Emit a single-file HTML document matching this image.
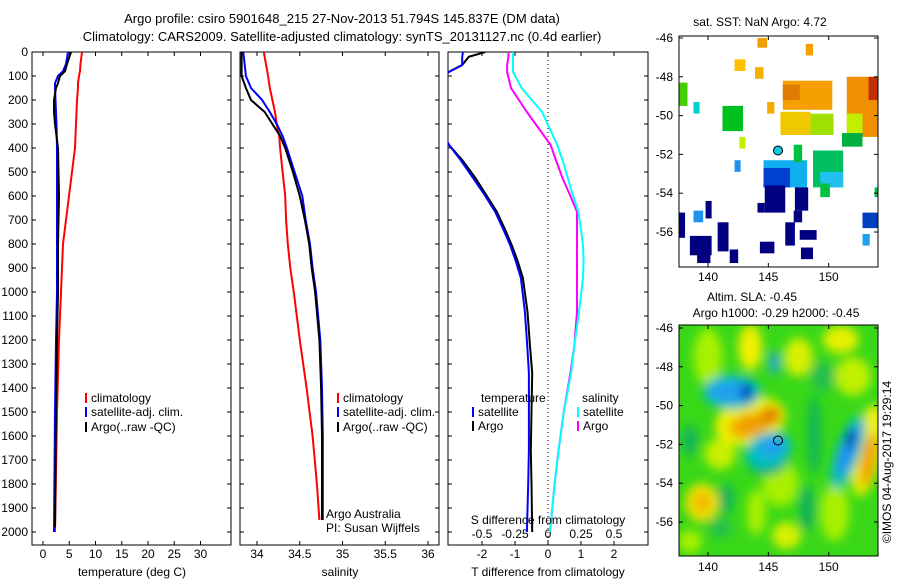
<!DOCTYPE html>
<html><head><meta charset="utf-8"><style>
html,body{margin:0;padding:0;background:#fff;}
svg{display:block;font-family:"Liberation Sans",sans-serif;}
text{font-size:12px;fill:#000;}
</style></head><body>
<svg id="chart" width="900" height="580" viewBox="0 0 900 580" xmlns="http://www.w3.org/2000/svg">
<defs>
<clipPath id="c1"><rect x="32" y="52" width="199" height="493"/></clipPath>
<clipPath id="c2"><rect x="240" y="52" width="199" height="493"/></clipPath>
<clipPath id="c3"><rect x="448" y="52" width="200" height="493"/></clipPath>
<clipPath id="cm1"><rect x="679" y="36" width="199" height="231"/></clipPath>
<clipPath id="cm2"><rect x="679" y="325" width="199" height="231"/></clipPath>
<filter id="blur" x="-50%" y="-50%" width="200%" height="200%"><feGaussianBlur stdDeviation="5"/></filter>
</defs>
<text x="342" y="23" text-anchor="middle" style="font-size:13px">Argo profile: csiro 5901648_215 27-Nov-2013 51.794S 145.837E (DM data)</text>
<text x="342" y="41" text-anchor="middle" style="font-size:13px">Climatology: CARS2009. Satellite-adjusted climatology: synTS_20131127.nc (0.4d earlier)</text>
<g id="g"></g>
</svg>
<script>
// ---- data ----
const depthT = [0,50,80,100,130,150,200,250,300,400,500,600,700,800,900,1000,1200,1500,2000];
const tempClim = [7.43,7.14,7.05,6.86,6.67,6.67,6.48,6.38,6.29,6.1,5.52,4.95,4.38,3.81,3.62,3.43,3.05,2.67,2.29];
const tempSat = [4.76,4.38,3.81,2.86,2.29,2.29,2.38,2.48,2.57,2.67,2.67,2.67,2.67,2.67,2.67,2.67,2.48,2.29,2.1];
const depthTArgo = [0,50,80,100,130,150,200,250,300,400,500,600,700,800,900,1000,1200,1500,1980];
const tempArgo = [5.33,4.57,4.19,3.24,2.86,2.48,2.1,2.1,2.29,2.86,2.95,3.05,2.95,2.86,2.86,2.86,2.67,2.48,2.29];
const depthS = [0,100,150,200,250,300,350,400,500,600,700,800,900,1000,1200,1400,1600,1800,1950];
const salClim = [34.08,34.13,34.15,34.18,34.21,34.23,34.26,34.27,34.30,34.33,34.34,34.36,34.39,34.43,34.50,34.58,34.65,34.70,34.73];
const salSat = [33.84,33.87,33.93,34.06,34.15,34.23,34.30,34.35,34.44,34.53,34.57,34.62,34.65,34.69,34.74,34.76,34.77,34.77,34.77];
const salArgo = [33.82,33.82,33.87,33.93,34.09,34.18,34.27,34.33,34.42,34.50,34.56,34.61,34.64,34.68,34.73,34.75,34.76,34.76,34.76];
const depthD = [0,20,54,83,150,250,387,450,525,600,666,740,804,870,942,1083,1221,1337,1500,1658,1800,2000];
const tDiffSat = [-2.58,-2.6,-2.6,-3.0,-3.6,-3.5,-3.0,-2.65,-2.27,-1.9,-1.6,-1.35,-1.15,-0.98,-0.82,-0.7,-0.63,-0.58,-0.58,-0.58,-0.6,-0.64];
const tDiffArgo = [-1.9,-2.4,-2.6,-3.0,-3.6,-3.5,-3.0,-2.6,-2.2,-1.85,-1.55,-1.3,-1.1,-0.92,-0.76,-0.62,-0.55,-0.48,-0.5,-0.52,-0.5,-0.48];
const sDiffSat = [-0.265,-0.265,-0.265,-0.265,-0.2,-0.045,0.07,0.11,0.15,0.19,0.23,0.25,0.265,0.27,0.265,0.235,0.2,0.175,0.12,0.08,0.05,0.015];
const sDiffArgo = [-0.3,-0.3,-0.31,-0.31,-0.28,-0.16,0.02,0.06,0.11,0.17,0.22,0.22,0.22,0.22,0.22,0.22,0.2,0.17,0.12,0.08,0.05,0.015];
const depthTicks = [0,100,200,300,400,500,600,700,800,900,1000,1100,1200,1300,1400,1500,1600,1700,1800,1900,2000];
const tempTicks = [0,5,10,15,20,25,30];
const salTicks = [34,34.5,35,35.5,36];
const salTickLabels = ["34","34.5","35","35.5","36"];
const tdTicks = [-2,-1,0,1,2];
const sdTicks = [-0.5,-0.25,0,0.25,0.5];
const sdTickLabels = ["-0.5","-0.25","0","0.25","0.5"];
const latTicks = [-46,-48,-50,-52,-54,-56];
const lonTicks = [140,145,150];
const argoLon = 145.8, argoLat = -51.8;
// SST blocks: [lon0, latTop, lon1, latBottom, colour]
const sstBlocks = [
[146.2,-48.2,150.3,-49.7,'#f5a000'],[146.2,-48.4,147.6,-49.2,'#e07a00'],
[146.0,-49.8,148.5,-51.0,'#f0c800'],[148.5,-49.9,150.4,-51.0,'#a0e000'],
[151.5,-48.0,154.1,-51.1,'#f09000'],[153.3,-48.0,154.1,-49.2,'#c03000'],
[151.5,-49.9,152.8,-51.1,'#c0f000'],[151.1,-50.9,152.8,-51.6,'#00b040'],
[141.2,-49.5,142.9,-50.8,'#00c020'],[142.6,-51.1,143.1,-51.7,'#c0f000'],
[138.8,-49.3,139.3,-49.9,'#00d0d0'],[137.6,-48.3,138.3,-49.5,'#40d000'],
[142.2,-47.1,143.1,-47.7,'#ffc000'],[143.9,-47.5,144.6,-48.1,'#f5b000'],
[144.9,-49.3,145.5,-49.9,'#f5a800'],[148.1,-46.3,148.7,-46.9,'#f5a000'],
[144.1,-46.0,144.9,-46.5,'#f0a000'],[142.2,-52.3,142.7,-52.9,'#2090f0'],
[144.6,-52.3,148.2,-53.7,'#10b0f0'],[144.6,-52.7,146.8,-53.7,'#0040d0'],
[147.1,-51.5,147.8,-52.4,'#00c040'],[148.7,-51.8,151.2,-53.7,'#00c060'],
[149.3,-52.9,151.2,-53.7,'#20c0f0'],[149.3,-53.5,150.1,-54.2,'#00c040'],
[144.7,-53.6,146.4,-55.0,'#000080'],[147.2,-53.7,148.3,-54.9,'#000080'],
[144.1,-54.5,144.7,-55.0,'#000080'],[147.1,-54.9,147.8,-55.5,'#000080'],
[137.6,-55.0,138.1,-56.3,'#000080'],[138.5,-56.2,140.3,-57.2,'#000080'],
[140.8,-55.5,141.7,-57.0,'#000080'],[141.8,-56.9,142.5,-57.6,'#000080'],
[139.1,-57.0,140.2,-57.6,'#000080'],[139.8,-54.4,140.3,-55.3,'#000080'],
[144.3,-56.5,145.5,-57.1,'#000080'],[146.4,-55.5,147.2,-56.7,'#000080'],
[147.6,-55.9,149.0,-56.4,'#000080'],[147.7,-56.8,148.7,-57.4,'#000080'],
[138.8,-54.9,139.6,-55.5,'#2090f0'],[152.8,-55.0,154.1,-55.8,'#0040c0'],
[152.8,-56.1,153.4,-56.7,'#20a0f0'],[153.8,-53.7,154.1,-54.2,'#00c040']
];
// SLA blobs: [lon, lat, rxDeg, ryDeg, rotation, colour]
const slaBlobs = [
[140.0,-47.5,1.2,1.5,0,'#a8f000'],[146.0,-54.0,1.5,1.2,0,'#a8f000'],[150.5,-55.5,1.2,1.5,0,'#a8f000'],[141.0,-52.5,1.3,0.8,0,'#c8f000'],
[152.0,-48.5,1.5,1.0,0,'#c0f000'],[138.5,-57.0,1.0,0.6,0,'#a8f000'],[144.0,-55.5,0.8,1.2,0,'#a8f000'],
[143.5,-47.0,1.0,1.2,0,'#f0f000'],[147.5,-47.5,1.2,1.0,0,'#d8f000'],[151,-46.6,1.5,0.7,0,'#e8f000'],
[139.5,-55.0,1.4,1.0,0,'#f0e000'],[139.5,-55.0,0.6,0.5,0,'#f0b000'],[146.5,-56.7,1.2,0.7,0,'#d8f000'],
[143.5,-50.8,3.0,1.2,-15,'#f0f000'],[143.5,-51.0,1.8,0.6,-15,'#f0a000'],[145.2,-50.5,0.8,0.5,0,'#e08000'],
[153.2,-52.3,1.2,2.4,10,'#f0f000'],[153.3,-52.8,0.6,1.4,10,'#f0a000'],
[148.8,-51.5,0.5,2.0,0,'#10b060'],[148.2,-55.3,0.6,1.2,0,'#10b060'],[141.5,-54.8,0.6,0.8,0,'#10b060'],[138.5,-51.8,0.6,0.8,0,'#10b060'],
[145.0,-53.0,1.6,0.6,-10,'#10b060'],[149.5,-48.5,1.0,0.8,0,'#20c050'],[141.0,-56.3,1.0,0.5,0,'#20c050'],
[142.0,-49.3,2.4,0.9,0,'#00c0c0'],[141.8,-49.3,1.8,0.55,0,'#20a0f0'],[143.2,-49.3,0.5,0.5,0,'#0040c0'],
[145.0,-52.3,2.0,0.9,-20,'#00c0c0'],[145.3,-52.1,1.2,0.5,-20,'#20a0f0'],
[151.6,-52.4,1.0,2.0,20,'#00c0c0'],[151.6,-52.3,0.6,1.4,20,'#2090f0'],[151.8,-51.7,0.35,0.5,0,'#0020a0'],
[145.5,-47.8,0.4,0.6,0,'#20a0f0']
];
// ---- drawing ----
const NS='http://www.w3.org/2000/svg';
const root=document.getElementById('g');
function mk(tag,attrs,parent){const e=document.createElementNS(NS,tag);for(const k in attrs)e.setAttribute(k,attrs[k]);(parent||root).appendChild(e);return e;}
function txt(s,x,y,anchor,parent){const t=mk('text',{x:x,y:y,'text-anchor':anchor||'start'},parent);t.textContent=s;return t;}
const yD=d=>52+d*0.24;
const xT=t=>43+t*5.25;
const xS=s=>257+(s-34)*85.5;
const xTD=t=>548+t*33;
const xSD=s=>548+s*132;
const panels=[{x:32,clip:'c1'},{x:240,clip:'c2'},{x:448,clip:'c3'}];
function line(xs,ds,xf,color,clip,name,w){
  const pts=xs.map((v,i)=>xf(v).toFixed(1)+','+yD(ds[i]).toFixed(1)).join(' ');
  const p=mk('polyline',{points:pts,fill:'none',stroke:color,'stroke-width':w||2,'clip-path':'url(#'+clip+')'});
  
  
}
panels.forEach((p,i)=>{
  const w=(i==2?200:199);
  const r=mk('rect',{x:p.x,y:52,width:w,height:493,fill:'none',stroke:'#000','stroke-width':1});
  
  
  depthTicks.forEach(d=>{
    mk('line',{x1:p.x,x2:p.x+4,y1:yD(d),y2:yD(d),stroke:'#000'});
    mk('line',{x1:p.x+w-4,x2:p.x+w,y1:yD(d),y2:yD(d),stroke:'#000'});
  });
});
depthTicks.forEach(d=>{const t=txt(String(d),28,yD(d)+4,'end');});
function xticks(vals,labels,xf,y,top){
  vals.forEach((v,i)=>{const x=xf(v);
    mk('line',{x1:x,x2:x,y1:545,y2:541,stroke:'#000'});
    if(top) mk('line',{x1:x,x2:x,y1:52,y2:56,stroke:'#000'});
    const t=txt(labels[i],x,y,'middle');});
}
xticks(tempTicks,tempTicks.map(String),xT,558,true);
xticks(salTicks,salTickLabels,xS,558,true);
xticks(tdTicks,tdTicks.map(String),xTD,558,false);
sdTicks.forEach((v,i)=>{const x=xSD(v);mk('line',{x1:x,x2:x,y1:52,y2:56,stroke:'#000'});
  const t=txt(sdTickLabels[i],x,538,'middle');});
mk('line',{x1:548,x2:548,y1:52,y2:545,stroke:'#000','stroke-dasharray':'1,3'});
line(tempClim,depthT,xT,'#ff0000','c1','temp-climatology-line');
line(tempSat,depthT,xT,'#0000ff','c1','temp-satellite-line');
line(tempArgo,depthTArgo,xT,'#000000','c1','temp-argo-line');
line(salClim,depthS,xS,'#ff0000','c2','sal-climatology-line');
line(salSat,depthS,xS,'#0000ff','c2','sal-satellite-line');
line(salArgo,depthS,xS,'#000000','c2','sal-argo-line');
line(tDiffArgo,depthD,xTD,'#000000','c3','tdiff-argo-line');
line(tDiffSat,depthD,xTD,'#0000ff','c3','tdiff-satellite-line');
line(sDiffArgo,depthD,xSD,'#ff00ff','c3','sdiff-argo-line');
line(sDiffSat,depthD,xSD,'#00ffff','c3','sdiff-satellite-line');
function leg(x,y,color,label,name){mk('rect',{x:x,y:y-9,width:2,height:10,fill:color});
  const t=txt(label,x+6,y,'start');}
leg(85,402,'#ff0000','climatology','legend-climatology');leg(85,416,'#0000ff','satellite-adj. clim.','legend-satellite');leg(85,431,'#000','Argo(..raw -QC)','legend-argo');
leg(337,402,'#ff0000','climatology','legend-climatology-2');leg(337,416,'#0000ff','satellite-adj. clim.','legend-satellite-2');leg(337,431,'#000','Argo(..raw -QC)','legend-argo-2');
txt('temperature',481,402);leg(472,416,'#0000ff','satellite','legend-t-satellite');leg(472,430,'#000','Argo','legend-t-argo');
txt('salinity',582,402);leg(577,416,'#00ffff','satellite','legend-s-satellite');leg(577,430,'#ff00ff','Argo','legend-s-argo');
txt('Argo Australia',326,518);txt('PI: Susan Wijffels',326,532);
txt('S difference from climatology',548,524,'middle');
txt('temperature (deg C)',132,576,'middle');txt('salinity',340,576,'middle');txt('T difference from climatology',548,576,'middle');
const mx=lon=>708+(lon-140)*12.07;
const myT=lat=>38+(-46-lat)*19.4;
const myB=lat=>328+(-46-lat)*19.4;
const gm1=mk('g',{'clip-path':'url(#cm1)'});
sstBlocks.forEach(b=>{const r=mk('rect',{x:mx(b[0]),y:myT(b[1]),width:mx(b[2])-mx(b[0]),height:myT(b[3])-myT(b[1]),fill:b[4]},gm1);
  });
mk('circle',{cx:mx(argoLon),cy:myT(argoLat),r:4.5,fill:'#10c8e0',stroke:'#000','stroke-width':1},gm1);
const gm2=mk('g',{'clip-path':'url(#cm2)'});
mk('rect',{x:679,y:325,width:199,height:231,fill:'#38d818'},gm2);
const gb=mk('g',{filter:'url(#blur)'},gm2);
slaBlobs.forEach(b=>{const cx=mx(b[0]),cy=myB(b[1]);const e=mk('ellipse',{cx:cx,cy:cy,rx:b[2]*12.07,ry:b[3]*19.4,fill:b[5],transform:'rotate('+b[4]+' '+cx+' '+cy+')'},gb);
  });
mk('circle',{cx:mx(argoLon),cy:myB(argoLat),r:4.5,fill:'none',stroke:'#000','stroke-width':1},gm2);
[[36,267,myT,281],[325,556,myB,571]].forEach((m,k)=>{
  const r=mk('rect',{x:679,y:m[0],width:199,height:m[1]-m[0],fill:'none',stroke:'#000'});
  
  latTicks.forEach(l=>{const y=m[2](l);mk('line',{x1:679,x2:683,y1:y,y2:y,stroke:'#000'});mk('line',{x1:874,x2:878,y1:y,y2:y,stroke:'#000'});
    const t=txt(String(l),673,y+4,'end');});
  lonTicks.forEach(l=>{const x=mx(l);mk('line',{x1:x,x2:x,y1:m[1],y2:m[1]-4,stroke:'#000'});mk('line',{x1:x,x2:x,y1:m[0],y2:m[0]+4,stroke:'#000'});
    const t=txt(String(l),x,m[3],'middle');});
});
txt('sat. SST: NaN Argo: 4.72',760,26,'middle');
txt('Altim. SLA: -0.45',752,301,'middle');
txt('Argo h1000: -0.29 h2000: -0.45',776,317,'middle');
const cp=txt('©IMOS 04-Aug-2017 19:29:14',0,0,'middle');cp.setAttribute('transform','translate(891,462) rotate(-90)');

</script>
</body></html>
